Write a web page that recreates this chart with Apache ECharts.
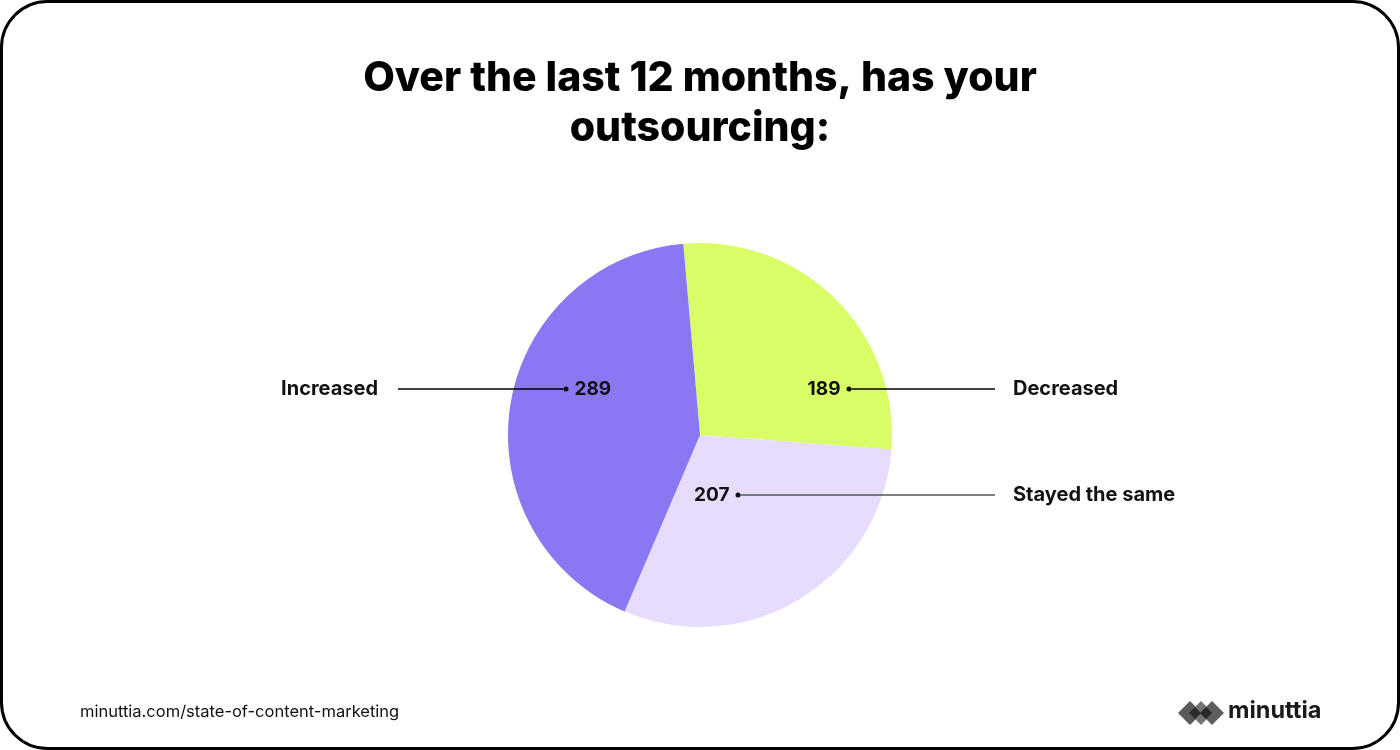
<!DOCTYPE html>
<html>
<head>
<meta charset="utf-8">
<script src="https://cdn.jsdelivr.net/npm/echarts@6/dist/echarts.min.js"></script>
<style>
  html, body { margin: 0; padding: 0; background: #fff; }
  #chart { width: 1400px; height: 750px; }
</style>
</head>
<body>
<div id="chart"></div>
<script>
const categories = ['Decreased', 'Stayed the same', 'Increased']
const counts = [189, 207, 289]
const colors = ['#d9fd66', '#e8dcfd', '#8a78f2']

// hand placed label anchors (dot position, line end, name position)
const labelSpots = [
  { side: 'right', dotX: 849, y: 389, lineEnd: 995, nameX: 1013, lineColor: '#000' },
  { side: 'right', dotX: 738, y: 495, lineEnd: 995, nameX: 1013, lineColor: '#555' },
  { side: 'left', dotX: 566, y: 389, lineEnd: 398, nameX: 378, lineColor: '#000' }
]

const font = 'Inter, "Noto Sans", sans-serif'
const chart = echarts.init(document.getElementById('chart'))

const pieData = categories.map((name, i) => ({
  name,
  value: counts[i],
  itemStyle: { color: colors[i] }
}))

// rich styles: one line token per label, its width from the anchors
const valueRich = {
  dot: { width: 5, height: 5, borderRadius: 2.5, backgroundColor: '#111' },
  vl: { fontFamily: font, fontSize: 19, fontWeight: 700, color: '#111', padding: [0, 0, 0, 6] },
  vr: { fontFamily: font, fontSize: 19, fontWeight: 700, color: '#111', padding: [0, 6, 0, 0] }
}
labelSpots.forEach((s, i) => {
  valueRich['line' + i] = {
    width: Math.abs(s.lineEnd - s.dotX) - 2.5,
    height: 1.4,
    backgroundColor: s.lineColor
  }
})

const option = {
  backgroundColor: '#fff',
  animation: false,
  graphic: [
    {
      type: 'rect',
      shape: { x: 1.5, y: 1.5, width: 1397, height: 747, r: 46 },
      style: { fill: 'none', stroke: '#000', lineWidth: 3 },
      silent: true
    },
    {
      type: 'text',
      x: 700,
      y: 54,
      style: {
        text: 'Over the last 12 months, has your\noutsourcing:',
        font: '800 41px ' + font,
        lineHeight: 50,
        align: 'center',
        verticalAlign: 'top',
        fill: '#000'
      }
    },
    {
      type: 'text',
      left: 80,
      top: 704,
      style: { text: 'minuttia.com/state-of-content-marketing', font: '400 16.5px ' + font, fill: '#111' }
    },
    {
      type: 'group',
      left: 1178,
      top: 701,
      children: [
        { type: 'polygon', shape: { points: [[0, 12], [12, 0], [24, 12], [12, 24]] }, style: { fill: '#5a5a5a' } },
        { type: 'polygon', shape: { points: [[11, 12], [23, 0], [35, 12], [23, 24]] }, style: { fill: '#6e6e6e', opacity: 0.95 } },
        { type: 'polygon', shape: { points: [[22, 12], [34, 0], [46, 12], [34, 24]] }, style: { fill: '#555', opacity: 0.95 } },
        { type: 'polygon', shape: { points: [[11, 12], [17, 6], [23, 12], [17, 18]] }, style: { fill: '#2a2a2a' } },
        { type: 'polygon', shape: { points: [[22, 12], [28, 6], [34, 12], [28, 18]] }, style: { fill: '#2a2a2a' } }
      ]
    },
    {
      type: 'text',
      left: 1228,
      top: 699,
      style: { text: 'minuttia', font: '700 23.5px ' + font, fill: '#1a1a1a' }
    }
  ],
  series: [
    {
      name: 'names',
      type: 'pie',
      center: ['50%', '58%'],
      radius: 192,
      startAngle: 95,
      clockwise: true,
      avoidLabelOverlap: false,
      silent: true,
      data: pieData,
      label: {
        show: true,
        position: 'outside',
        formatter: '{b}',
        fontFamily: font,
        fontSize: 20,
        fontWeight: 700,
        color: '#111'
      },
      labelLine: { show: false },
      labelLayout: function (p) {
        const s = labelSpots[p.dataIndex]
        return {
          x: s.nameX,
          y: s.y,
          align: s.side === 'left' ? 'right' : 'left',
          verticalAlign: 'middle'
        }
      }
    },
    {
      name: 'values',
      type: 'pie',
      center: ['50%', '58%'],
      radius: 192,
      startAngle: 95,
      clockwise: true,
      avoidLabelOverlap: false,
      silent: true,
      z: 5,
      data: categories.map((name, i) => ({ name, value: counts[i] })),
      itemStyle: { color: 'rgba(0,0,0,0)' },
      label: {
        show: true,
        position: 'inside',
        formatter: (p) => labelSpots[p.dataIndex].side === 'left'
          ? '{line' + p.dataIndex + '|}{dot|}{vl|' + p.value + '}'
          : '{vr|' + p.value + '}{dot|}{line' + p.dataIndex + '|}',
        rich: valueRich
      },
      labelLine: { show: false },
      labelLayout: function (p) {
        const s = labelSpots[p.dataIndex]
        return {
          x: s.lineEnd,
          y: s.y,
          align: s.side === 'left' ? 'left' : 'right',
          verticalAlign: 'middle'
        }
      }
    }
  ]
}

chart.setOption(option)
</script>
</body>
</html>
